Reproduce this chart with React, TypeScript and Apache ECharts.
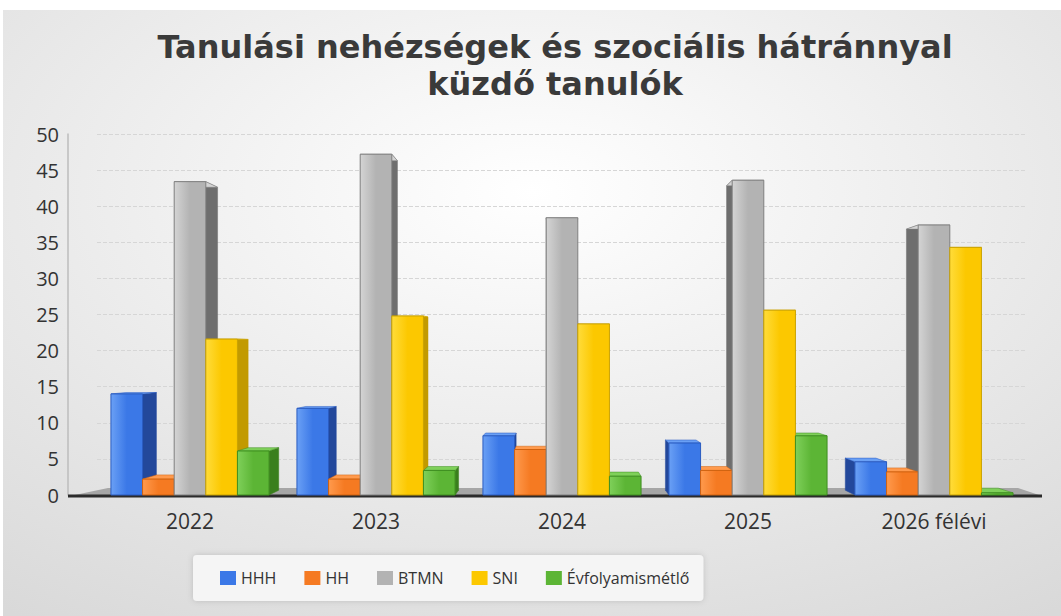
import React, { useEffect, useRef } from "react";
import * as echarts from "echarts";

const categories = ["2022", "2023", "2024", "2025", "2026 félévi"];
const seriesNames = ["HHH", "HH", "BTMN", "SNI", "Évfolyamismétlő"];
const hhh = [14, 12, 8.2, 7.2, 4.6];
const hh = [2.2, 2.2, 6.3, 3.4, 3.2];
const btmn = [43.4, 47.2, 38.4, 43.6, 37.4];
const sni = [21.6, 24.8, 23.7, 25.6, 34.3];
const evf = [6.1, 3.4, 2.6, 8.2, 0.3];
const yTicks = { min: 0, max: 50, interval: 5 };

const seriesValues = [hhh, hh, btmn, sni, evf];
const palette = [
  { light: "#6aa0f5", main: "#3b78e7", dark: "#23489b", border: "#2a5bc0" },
  { light: "#ff9a4d", main: "#f57a22", dark: "#c0560e", border: "#d0620f" },
  { light: "#d4d4d4", main: "#b3b3b3", dark: "#6e6e6e", border: "#7f7f7f" },
  { light: "#ffdc3a", main: "#fcc800", dark: "#c29a00", border: "#c9a100" },
  { light: "#7fd05a", main: "#5cb535", dark: "#3a7f1d", border: "#3e8f20" },
];

const makeRender = (si: number) => (params: any, api: any) => {
  const cat = api.value(0);
  const val = api.value(1);
  const base = api.coord([cat, 0]);
  const top = api.coord([cat, val]);
  const band = api.size([1, 0])[0];
  const bw = band * 0.17;
  const x0 = base[0] - bw * 2.5 + si * bw;
  const x1 = x0 + bw;
  const yT = top[1];
  const yB = base[1];
  const cs = params.coordSys;
  const Vx = cs.x + cs.width / 2;
  const Vy = cs.y + cs.height * 0.6;
  const k = 0.033;
  const back = (x: number, y: number) => [x + k * (Vx - x), y + k * (Vy - y)];
  const sideX = (x0 + x1) / 2 < Vx ? x1 : x0;
  const c = palette[si];
  const side = [[sideX, yT], back(sideX, yT), back(sideX, yB), [sideX, yB]];
  const topFace = [[x0, yT], [x1, yT], back(x1, yT), back(x0, yT)];
  return {
    type: "group",
    children: [
      {
        type: "polygon",
        z2: 1,
        shape: { points: side },
        style: { fill: c.dark, stroke: c.dark, lineWidth: 0.5 },
      },
      {
        type: "polygon",
        z2: 2,
        shape: { points: topFace },
        style: { fill: c.light, stroke: c.border, lineWidth: 0.5 },
      },
      {
        type: "rect",
        z2: 10,
        shape: { x: x0, y: yT, width: bw, height: yB - yT },
        style: {
          fill: new echarts.graphic.LinearGradient(0, 0, 1, 0, [
            { offset: 0, color: c.light },
            { offset: 0.5, color: c.main },
            { offset: 1, color: c.main },
          ]),
          stroke: c.border,
          lineWidth: 1,
        },
      },
    ],
  };
};

export default function App() {
  const ref = useRef<HTMLDivElement>(null);
  useEffect(() => {
    document.body.style.margin = "0";
    const chart = echarts.init(ref.current!, undefined, { renderer: "svg" });
    const font = "'Open Sans', 'Noto Sans', sans-serif";
    chart.setOption({
      animation: false,
      backgroundColor: "#ffffff",
      title: {
        text: "Tanulási nehézségek és szociális hátránnyal\nküzdő tanulók",
        left: 555,
        textAlign: "center",
        top: 28,
        padding: 0,
        textStyle: {
          fontFamily: "'DejaVu Sans', sans-serif",
          fontSize: 32,
          fontWeight: "bold",
          color: "#3a3a3a",
          lineHeight: 37,
        },
      },
      legend: {
        data: seriesNames,
        left: 193,
        top: 555,
        icon: "rect",
        itemWidth: 16,
        itemHeight: 14,
        itemGap: 28,
        padding: [15, 14, 15, 27],
        backgroundColor: "#f5f5f5",
        borderRadius: 4,
        shadowBlur: 6,
        shadowColor: "rgba(0,0,0,0.15)",
        textStyle: { fontFamily: font, fontSize: 16, color: "#333" },
      },
      grid: { left: 97, right: 34, top: 134, bottom: 121 },
      xAxis: {
        type: "category",
        data: categories,
        axisLine: { show: false },
        axisTick: { show: false },
        axisLabel: { fontFamily: font, fontSize: 21, color: "#333", margin: 15 },
      },
      yAxis: {
        type: "value",
        min: yTicks.min,
        max: yTicks.max,
        interval: yTicks.interval,
        offset: 29,
        axisLine: { show: true, lineStyle: { color: "#bdbdbd", width: 1.5 } },
        axisTick: { show: false },
        axisLabel: { fontFamily: font, fontSize: 20, color: "#333", margin: 9 },
        splitLine: { lineStyle: { color: "#d6d6d6", type: "dashed" } },
      },
      graphic: [
        {
          type: "rect",
          z: -10,
          silent: true,
          shape: { x: 3, y: 10, width: 1058, height: 606 },
          style: {
            fill: new echarts.graphic.RadialGradient(0.5, 0.3, 0.85, [
              { offset: 0, color: "#ffffff" },
              { offset: 1, color: "#d9d9d9" },
            ]),
          },
        },
        {
          type: "polygon",
          z: 1,
          shape: { points: [[70, 496], [108, 488], [1018, 488], [1042, 496]] },
          style: { fill: "#a6a6a6" },
        },
        {
          type: "line",
          z: 1,
          shape: { x1: 68, y1: 496, x2: 1042, y2: 496 },
          style: { stroke: "#2b2b2b", lineWidth: 3 },
        },
      ],
      series: seriesNames.map((name, si) => ({
        name,
        type: "custom",
        renderItem: makeRender(si),
        itemStyle: { color: palette[si].main },
        encode: { x: 0, y: 1 },
        data: seriesValues[si].map((v, i) => [i, v]),
      })),
    });
    return () => chart.dispose();
  }, []);
  return <div ref={ref} style={{ width: 1061, height: 616 }} />;
}
